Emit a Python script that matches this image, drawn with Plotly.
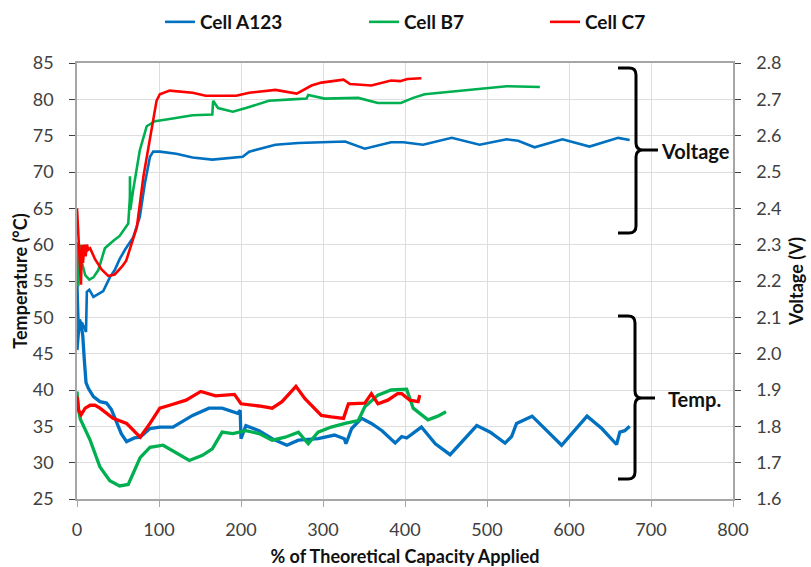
import plotly.graph_objects as go

# ---------------- data ----------------
# Voltage (V) vs % of theoretical capacity applied
a123_v_x = [0.5, 2, 6, 11, 12, 15, 20, 26, 32, 40, 46, 52, 58.5, 68.5, 76.6, 82.7, 89, 93, 101, 121, 141, 165,
            202, 210, 242, 270, 327, 351, 383, 398, 422, 457, 491, 524, 538, 558, 592, 625, 660, 674]
a123_v = [2.186, 2.07, 2.086, 2.06, 2.17, 2.176, 2.156, 2.164, 2.172, 2.21, 2.23, 2.26, 2.286, 2.32, 2.376, 2.468,
          2.542, 2.556, 2.556, 2.55, 2.54, 2.534, 2.542, 2.556, 2.575, 2.58, 2.584, 2.564, 2.582, 2.582, 2.575,
          2.594, 2.575, 2.59, 2.586, 2.568, 2.59, 2.57, 2.594, 2.588]

b7_v_x = [0, 1.5, 3, 6, 10, 15, 20, 26, 30, 34, 44, 52, 62.5, 64.5, 64.6, 65, 68.5, 76.6, 85, 95, 113, 141,
          165, 166, 172, 190, 206, 234, 262, 280, 282, 302, 343, 367, 395, 410, 424, 467, 500, 524, 564.5]
b7_v = [2.306, 2.186, 2.30, 2.25, 2.216, 2.204, 2.21, 2.23, 2.26, 2.29, 2.31, 2.324, 2.358, 2.428, 2.488, 2.396,
        2.45, 2.56, 2.626, 2.64, 2.646, 2.656, 2.658, 2.696, 2.676, 2.666, 2.676, 2.696, 2.70, 2.702, 2.712,
        2.702, 2.704, 2.69, 2.69, 2.704, 2.714, 2.724, 2.73, 2.736, 2.734]

c7_v_x = [0, 2, 4.8, 6, 7.3, 8.9, 10.5, 12.1, 13.7, 16, 22, 30, 38, 46, 55, 60, 73, 81, 89, 97, 101, 113, 141,
          157, 194, 210, 242, 268, 286, 298, 325, 333, 359, 369.5, 383, 394, 403, 420]
c7_v = [2.40, 2.32, 2.19, 2.30, 2.25, 2.30, 2.268, 2.30, 2.286, 2.29, 2.26, 2.232, 2.214, 2.218, 2.24, 2.256,
        2.348, 2.488, 2.588, 2.696, 2.714, 2.724, 2.718, 2.71, 2.71, 2.718, 2.726, 2.716, 2.738, 2.746, 2.754,
        2.742, 2.738, 2.744, 2.752, 2.75, 2.756, 2.758]

# Temperature (°C) vs % of theoretical capacity applied
a123_t_x = [0, 3, 5, 7, 9, 11, 14, 20, 28, 36, 42, 48, 54, 60.5, 70, 77, 89, 101, 117, 141, 161, 177, 196,
            199, 200, 206, 222, 238, 256, 270, 294, 314, 326, 328, 335, 347, 359, 372, 388, 396, 402, 420, 437,
            455, 487.5, 504, 522, 530, 536, 555, 591, 622, 640, 658, 662, 668, 674]
a123_t = [45.5, 49.7, 49.0, 47.5, 44.0, 41.0, 40.2, 39.1, 38.4, 38.2, 37.3, 35.5, 34.0, 32.9, 33.4, 33.5, 34.7,
          34.9, 34.9, 36.5, 37.5, 37.5, 36.8, 37.2, 33.3, 35.1, 34.4, 33.3, 32.4, 33.1, 33.3, 33.8, 33.3, 32.6,
          34.7, 36.1, 35.4, 34.4, 32.7, 33.6, 33.4, 34.9, 32.6, 31.1, 35.1, 34.2, 32.7, 33.6, 35.4, 36.4, 32.4,
          36.4, 34.7, 32.5, 34.2, 34.4, 35.0]

b7_t_x = [0, 2, 4, 8, 16, 28, 40, 52, 62.5, 77, 89, 105, 121, 137, 153, 165, 177, 190, 206, 222, 238, 254,
          270, 282, 294, 310, 327, 343, 351, 367, 383, 399, 402, 410, 422, 428, 440, 450]
b7_t = [39.8, 37.2, 36.0, 35.0, 33.1, 29.4, 27.5, 26.8, 27.0, 30.7, 32.1, 32.4, 31.4, 30.3, 31.0, 31.9, 34.2,
        34.0, 34.4, 34.0, 33.1, 33.5, 34.2, 32.6, 34.2, 34.9, 35.4, 35.8, 37.7, 39.3, 40.0, 40.1, 40.1, 37.5,
        36.5, 35.9, 36.4, 37.0]

c7_t_x = [0, 2, 5, 10, 16, 22, 28, 44, 60.5, 77, 89, 101, 113, 133, 151, 169, 192, 200, 222, 238, 250, 267,
          278, 298, 310, 325, 331, 351, 359, 367, 379, 391, 396, 406, 416, 418]
c7_t = [39.1, 37.2, 36.6, 37.5, 37.9, 37.9, 37.5, 36.1, 35.4, 33.5, 35.4, 37.5, 37.9, 38.6, 39.8, 39.2, 39.4,
        38.1, 37.8, 37.5, 38.4, 40.5, 38.8, 36.5, 36.3, 36.1, 38.1, 38.2, 39.5, 38.1, 38.6, 39.5, 39.5, 38.6,
        38.4, 39.3]

series_names = ["Cell A123", "Cell B7", "Cell C7"]
series_colors = ["#0070C0", "#00B050", "#FF0000"]
x_ticks = [0, 100, 200, 300, 400, 500, 600, 700, 800]

# ---------------- figure ----------------
W, H = 811, 567
L, R, T, B = 77, 78, 63, 68
pw, ph = W - L - R, H - T - B


def px(xp, yp):
    return ((xp - L) / pw, (H - B - yp) / ph)


fig = go.Figure()
volt = [(a123_v_x, a123_v), (b7_v_x, b7_v), (c7_v_x, c7_v)]
temp = [(a123_t_x, a123_t), (b7_t_x, b7_t), (c7_t_x, c7_t)]
legend_ids = ["legend", "legend2", "legend3"]

for i in range(3):
    fig.add_trace(go.Scatter(x=temp[i][0], y=temp[i][1], mode="lines", yaxis="y",
                             line=dict(color=series_colors[i], width=3.3), showlegend=False,
                             name=series_names[i], hoverinfo="skip"))
for i in range(3):
    fig.add_trace(go.Scatter(x=volt[i][0], y=volt[i][1], mode="lines", yaxis="y2",
                             line=dict(color=series_colors[i], width=2.6), showlegend=True,
                             name=series_names[i], legend=legend_ids[i]))

FONT = "Lato, 'Open Sans', sans-serif"
tick_font = dict(family=FONT, size=18, color="#404040")
title_font = dict(family=FONT, size=18, color="#111111")

leg_px = [160, 364, 545]
legs = {}
for i, lid in enumerate(legend_ids):
    lx, ly = px(leg_px[i], 22)
    legs[lid] = dict(x=lx, y=ly, xanchor="left", yanchor="middle", orientation="h",
                     font=dict(family=FONT, size=19, color="#111111", weight="bold"),
                     bgcolor="rgba(0,0,0,0)", itemwidth=30)

fig.update_layout(
    width=W, height=H, margin=dict(l=L, r=R, t=T, b=B, autoexpand=False),
    paper_bgcolor="white", plot_bgcolor="white",
    xaxis=dict(range=[0, 800], tickvals=x_ticks, showgrid=True, gridcolor="#dedede", gridwidth=1,
               showline=True, linecolor="#a6a6a6", linewidth=1.5, mirror=True,
               ticks="outside", ticklen=6, tickcolor="#a6a6a6", tickfont=tick_font, zeroline=False,
               ticklabelstandoff=8,
               title=dict(text="<b>% of Theoretical Capacity Applied</b>", font=title_font, standoff=12),
               automargin=False),
    yaxis=dict(range=[25, 85], dtick=5, showgrid=True, gridcolor="#dedede", gridwidth=1,
               showline=True, linecolor="#a6a6a6", linewidth=1.5, ticks="outside", ticklen=6,
               tickcolor="#404040", tickfont=tick_font, zeroline=False, ticklabelstandoff=12,
               title=dict(text="<b>Temperature (°C)</b>", font=title_font, standoff=0), automargin=False),
    yaxis2=dict(range=[1.6, 2.8], dtick=0.1, tickformat=".1f", overlaying="y", side="right", showgrid=False,
                showline=True, linecolor="#a6a6a6", linewidth=1.5, ticks="outside", ticklen=6,
                tickcolor="#404040", tickfont=tick_font, zeroline=False, ticklabelstandoff=12,
                title=dict(text="<b>Voltage (V)</b>", font=title_font, standoff=10), automargin=False),
    **legs,
)


def bracket(top, bot, mid, xl, xv, xn):
    pts = []
    r = 7
    seg = [
        ("M", [(xl, top)]), ("L", [(xv - r, top)]), ("Q", [(xv, top), (xv, top + r)]),
        ("L", [(xv, mid - r)]), ("Q", [(xv, mid), (xv + r, mid)]), ("L", [(xn, mid)]),
        ("M", [(xv + r, mid)]), ("Q", [(xv, mid), (xv, mid + r)]),
        ("L", [(xv, bot - r)]), ("Q", [(xv, bot), (xv - r, bot)]), ("L", [(xl, bot)]),
    ]
    for cmd, ps in seg:
        coords = " ".join("%.5f,%.5f" % px(a, b) for a, b in ps)
        pts.append(cmd + " " + coords)
    return " ".join(pts)


fig.add_shape(type="path", xref="paper", yref="paper",
              path=bracket(68, 233, 150, 618, 636, 658), line=dict(color="black", width=3))
fig.add_shape(type="path", xref="paper", yref="paper",
              path=bracket(316, 479, 398, 618, 635, 655), line=dict(color="black", width=3))

ax, ay = px(659, 151)
fig.add_annotation(x=ax, y=ay, xref="paper", yref="paper", text="<b>Voltage</b>", showarrow=False,
                   xanchor="left", yanchor="middle", font=dict(family=FONT, size=20, color="#111111"))
ax, ay = px(666, 399)
fig.add_annotation(x=ax, y=ay, xref="paper", yref="paper", text="<b>Temp.</b>", showarrow=False,
                   xanchor="left", yanchor="middle", font=dict(family=FONT, size=20, color="#111111"))

fig.write_html("out.html")
